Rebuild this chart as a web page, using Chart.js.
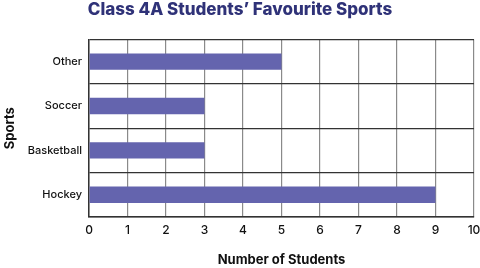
<!DOCTYPE html>
<html>
<head>
<meta charset="utf-8">
<script src="https://cdn.jsdelivr.net/npm/chart.js@4"></script>
<style>
  html, body { margin: 0; padding: 0; background: #fff; }
  #wrap { width: 480px; height: 268px; }
</style>
</head>
<body>
<div id="wrap"><canvas id="sportsChart" width="480" height="268"></canvas></div>
<script>
const sports = ["Other", "Soccer", "Basketball", "Hockey"];
const students = [5, 3, 3, 9];
const xTicks = [0, 1, 2, 3, 4, 5, 6, 7, 8, 9, 10];

const drawSportsChart = (canvasId) => {
  const canvas = document.getElementById(canvasId);

  new Chart(canvas, {
    type: "bar",
    data: {
      labels: sports,
      datasets: [{
        data: students,
        backgroundColor: "#6464ae",
        borderWidth: 0,
        categoryPercentage: 1,
        barPercentage: 0.37,
      }],
    },
    options: {
      indexAxis: "y",
      responsive: false,
      animation: false,
      events: [],
      layout: { padding: { left: 0, right: 0, top: 0, bottom: 0 } },
      plugins: {
        legend: { display: false },
        tooltip: { enabled: false },
        title: {
          display: true,
          text: "Class 4A Students’ Favourite Sports",
          color: "#2f3278",
          font: { family: "Inter", size: 17, weight: "800" },
          padding: { top: 0, bottom: 19 },
        },
      },
      scales: {
        x: {
          min: 0,
          max: 10,
          afterBuildTicks: (axis) => { axis.ticks = xTicks.map(v => ({ value: v })); },
          afterFit: (axis) => { axis.paddingRight = 6; },
          ticks: {
            color: "#111",
            font: { family: "Inter", size: 12, weight: "500" },
            padding: 6,
          },
          grid: { color: "#8a8a8a", lineWidth: 1.2, drawTicks: false },
          border: { color: "#333", width: 1.5 },
          title: {
            display: true,
            text: "Number of Students",
            color: "#111",
            font: { family: "Inter", size: 13, weight: "700" },
            padding: { top: 9, bottom: 0 },
          },
        },
        y: {
          afterFit: (axis) => { axis.width = 89; },
          ticks: {
            color: "#111",
            font: { family: "Inter", size: 11, weight: "500" },
            padding: 7,
          },
          grid: { color: "#333", lineWidth: 1.2, offset: true, drawTicks: false },
          border: { color: "#333", width: 1.5 },
          title: {
            display: true,
            text: "Sports",
            color: "#111",
            font: { family: "Inter", size: 13, weight: "700" },
            padding: { top: 2, bottom: 0 },
          },
        },
      },
    },
  });
};

drawSportsChart("sportsChart");
</script>
</body>
</html>
